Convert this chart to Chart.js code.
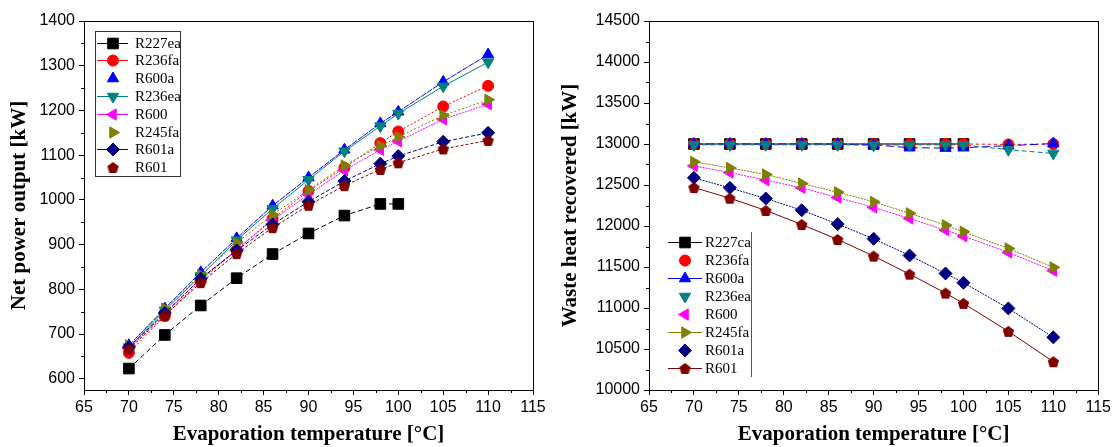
<!DOCTYPE html>
<html>
<head>
<meta charset="utf-8">
<script src="https://cdn.jsdelivr.net/npm/chart.js@4.4.0/dist/chart.umd.min.js"></script>
<style>
  body { margin: 0; background: #fff; }
  #wrap { display: flex; width: 1114px; height: 447px; }
  canvas { display: block; }
</style>
</head>
<body>
<div id="wrap">
  <canvas id="powerChart" width="557" height="447"></canvas>
  <canvas id="heatChart" width="557" height="447"></canvas>
</div>
<script>
// evaporation temperatures (°C)
const temps = [70, 74, 78, 82, 86, 90, 94, 98, 100, 105, 110];
const namesLeft = ['R227ea', 'R236fa', 'R600a', 'R236ea', 'R600', 'R245fa', 'R601a', 'R601'];
const namesRight = ['R227ca', 'R236fa', 'R600a', 'R236ea', 'R600', 'R245fa', 'R601a', 'R601'];

// net power output [kW]
const powR227ea = [623, 698, 764, 825, 879, 925, 965, 991, 991, null, null];
const powR236fa = [658, 740, 820, 888, 958, 1020, 1072, 1127, 1153, 1209, 1255];
const powR600a  = [675, 757, 838, 914, 987, 1050, 1112, 1171, 1197, 1264, 1325];
const powR236ea = [671, 753, 830, 910, 980, 1045, 1109, 1165, 1193, 1254, 1308];
const powR600   = [668, 746, 824, 889, 955, 1012, 1066, 1112, 1131, 1180, 1214];
const powR245fa = [675, 757, 832, 904, 967, 1022, 1077, 1121, 1141, 1189, 1224];
const powR601a  = [671, 747, 824, 887, 945, 996, 1042, 1081, 1098, 1130, 1150];
const powR601   = [666, 742, 815, 880, 938, 988, 1032, 1068, 1083, 1114, 1133];

// waste heat recovered [kW]
const heatR227ea = [13000, 13000, 13000, 13000, 13000, 13000, 13000, 13000, 13000, null, null];
const heatR236fa = [13000, 13000, 13000, 13000, 13000, 13000, 13000, 13000, 13000, 12995, 13000];
const heatR600a  = [13000, 13000, 13000, 13000, 13000, 12990, 12955, 12950, 12955, 12980, 13005];
const heatR236ea = [12990, 12990, 12990, 12990, 12990, 12985, 12990, 12990, 12990, 12930, 12885];
const heatR600   = [12733, 12652, 12559, 12465, 12347, 12226, 12092, 11949, 11876, 11677, 11454];
const heatR245fa = [12782, 12708, 12628, 12518, 12412, 12295, 12155, 12010, 11930, 11726, 11495];
const heatR601a  = [12587, 12465, 12335, 12193, 12023, 11844, 11641, 11421, 11308, 10995, 10642];
const heatR601   = [12469, 12339, 12189, 12018, 11836, 11633, 11413, 11182, 11056, 10715, 10345];

// tick labels
const xTicks = [65, 70, 75, 80, 85, 90, 95, 100, 105, 110, 115];
const powTicks = [600, 700, 800, 900, 1000, 1100, 1200, 1300, 1400];
const heatTicks = [10000, 10500, 11000, 11500, 12000, 12500, 13000, 13500, 14000, 14500];

const colors = ['#000000', '#ff0000', '#0000ff', '#008080', '#ff00ff', '#808000', '#000080', '#800000'];

function pentagon(color, size) {
  const c = document.createElement('canvas');
  c.width = size; c.height = size;
  const g = c.getContext('2d');
  const r = size / 2 - 0.5;
  g.beginPath();
  for (let i = 0; i < 5; i++) {
    const a = -Math.PI / 2 + i * 2 * Math.PI / 5;
    const px = size / 2 + r * Math.cos(a);
    const py = size / 2 + r * Math.sin(a) + r * 0.1;
    if (i === 0) g.moveTo(px, py); else g.lineTo(px, py);
  }
  g.closePath();
  g.fillStyle = color;
  g.fill();
  return c;
}

const styles = ['rect', 'circle', 'triangle', 'triangle', 'triangle', 'triangle', 'rectRot', pentagon('#800000', 13)];
const rotations = [0, 0, 0, 180, 270, 90, 0, 0];
const radii = [7.5, 5.5, 6.5, 6.5, 6.5, 6.5, 6.5, 6];

function makeSets(names, series, dashes) {
  return series.map((vals, i) => ({
    label: names[i],
    data: temps.map((t, k) => ({ x: t, y: vals[k] })),
    borderColor: colors[i],
    backgroundColor: colors[i],
    pointBackgroundColor: colors[i],
    pointBorderColor: colors[i],
    pointBorderWidth: 1,
    pointStyle: styles[i],
    pointRotation: rotations[i],
    pointRadius: radii[i],
    borderWidth: 1,
    borderDash: dashes[i],
    order: 10 - i
  }));
}

const framePlugin = {
  id: 'frame',
  afterDraw(chart, args, opts) {
    const { ctx, chartArea: a, scales } = chart;
    ctx.save();
    ctx.strokeStyle = '#000';
    ctx.lineWidth = 1;
    ctx.setLineDash([]);
    ctx.strokeRect(Math.round(a.left) + 0.5, Math.round(a.top) + 0.5, Math.round(a.right - a.left), Math.round(a.bottom - a.top));
    ctx.beginPath();
    for (let i = 0; i < xTicks.length - 1; i++) {
      const px = Math.round(scales.x.getPixelForValue((xTicks[i] + xTicks[i + 1]) / 2)) + 0.5;
      ctx.moveTo(px, a.bottom); ctx.lineTo(px, a.bottom + 3);
    }
    const yt = opts.yTicks;
    for (let i = 0; i < yt.length - 1; i++) {
      const py = Math.round(scales.y.getPixelForValue((yt[i] + yt[i + 1]) / 2)) + 0.5;
      ctx.moveTo(a.left, py); ctx.lineTo(a.left - 3, py);
    }
    if (yt[0] - (yt[1] - yt[0]) / 2 >= scales.y.min) {
      const py = Math.round(scales.y.getPixelForValue(yt[0] - (yt[1] - yt[0]) / 2)) + 0.5;
      ctx.moveTo(a.left, py); ctx.lineTo(a.left - 3, py);
    }
    ctx.stroke();
    ctx.restore();
  }
};

const legendPlugin = {
  id: 'boxLegend',
  afterDraw(chart, args, o) {
    const ctx = chart.ctx;
    ctx.save();
    ctx.fillStyle = '#fff';
    ctx.fillRect(o.x0, o.y0, o.x1 - o.x0, o.y1 - o.y0);
    ctx.strokeStyle = o.frameColor;
    ctx.lineWidth = 1;
    if (o.box) {
      ctx.strokeRect(o.x0 + 0.5, o.y0 + 0.5, o.x1 - o.x0, o.y1 - o.y0);
    } else {
      ctx.beginPath();
      ctx.moveTo(o.x1 + 0.5, o.y0); ctx.lineTo(o.x1 + 0.5, o.y1);
      ctx.stroke();
    }
    chart.data.datasets.forEach((ds, i) => {
      const y = Math.round(o.top + i * o.rowH) + 0.5;
      ctx.setLineDash([]);
      if (o.lines[i]) {
        ctx.strokeStyle = ds.borderColor;
        ctx.beginPath();
        ctx.moveTo(o.lineX0, y); ctx.lineTo(o.lineX1, y);
        ctx.stroke();
      }
      ctx.fillStyle = ds.pointBackgroundColor;
      ctx.strokeStyle = ds.pointBorderColor;
      Chart.helpers.drawPoint(ctx, {
        pointStyle: ds.pointStyle, rotation: ds.pointRotation,
        radius: ds.pointRadius, borderWidth: 1
      }, o.markerX, y);
      ctx.fillStyle = '#000';
      ctx.font = '15px "Liberation Serif"';
      ctx.textBaseline = 'middle';
      ctx.fillText(ds.label, o.textX, y + 1);
    });
    ctx.restore();
  }
};

function scalesFor(yMin, yMax, yTicks, yTitle, yWidth, titlePad) {
  return {
    x: {
      type: 'linear', min: 65, max: 115,
      afterBuildTicks: s => { s.ticks = xTicks.map(v => ({ value: v })); },
      afterFit: s => { s.height = 57; },
      grid: { drawOnChartArea: false, tickLength: 5, color: '#000' },
      border: { color: '#000' },
      ticks: { color: '#000', font: { size: 16 }, padding: 3, autoSkip: false, maxRotation: 0 },
      title: { display: true, text: 'Evaporation temperature [°C]', color: '#000', padding: 0,
        font: { family: 'Liberation Serif', size: 21, weight: 'bold' } }
    },
    y: {
      min: yMin, max: yMax,
      afterBuildTicks: s => { s.ticks = yTicks.map(v => ({ value: v })); },
      afterFit: s => { s.width = yWidth; },
      grid: { drawOnChartArea: false, tickLength: 5, color: '#000' },
      border: { color: '#000' },
      ticks: { color: '#000', font: { size: 16 }, padding: 4, callback: v => String(v) },
      title: { display: true, text: yTitle, color: '#000', padding: { top: titlePad, bottom: 0 },
        font: { family: 'Liberation Serif', size: 21, weight: 'bold' } }
    }
  };
}

Chart.defaults.font.family = '"Liberation Sans", Arial, sans-serif';
Chart.defaults.color = '#000';

new Chart(document.getElementById('powerChart'), {
  type: 'line',
  data: {
    datasets: makeSets(namesLeft,
      [powR227ea, powR236fa, powR600a, powR236ea, powR600, powR245fa, powR601a, powR601],
      [[5, 3], [2, 2], [6, 1], [], [2, 1], [2, 2], [4, 2], [3, 2]])
  },
  options: {
    responsive: false,
    animation: false,
    layout: { padding: { left: 0, top: 21, right: 24, bottom: 0 } },
    scales: scalesFor(575, 1400, powTicks, 'Net power output [kW]', 84, 7),
    plugins: {
      legend: { display: false },
      tooltip: { enabled: false },
      frame: { yTicks: powTicks },
      boxLegend: {
        box: true, frameColor: '#333', x0: 95, y0: 31, x1: 180, y1: 176,
        top: 42.5, rowH: 17.8, lineX0: 97, lineX1: 128, markerX: 113, textX: 135,
        lines: [true, true, false, true, true, false, true, false]
      }
    }
  },
  plugins: [framePlugin, legendPlugin]
});

new Chart(document.getElementById('heatChart'), {
  type: 'line',
  data: {
    datasets: makeSets(namesRight,
      [heatR227ea, heatR236fa, heatR600a, heatR236ea, heatR600, heatR245fa, heatR601a, heatR601],
      [[], [3, 3], [8, 4], [5, 3], [2, 1], [2, 1], [2, 1], []])
  },
  options: {
    responsive: false,
    animation: false,
    layout: { padding: { left: 0, top: 21, right: 15, bottom: 0 } },
    scales: scalesFor(10000, 14500, heatTicks, 'Waste heat recovered [kW]', 92, 1),
    plugins: {
      legend: { display: false },
      tooltip: { enabled: false },
      frame: { yTicks: heatTicks },
      boxLegend: {
        box: false, frameColor: '#555', x0: 110, y0: 232, x1: 194, y1: 377,
        top: 241.5, rowH: 18, lineX0: 111, lineX1: 145, markerX: 128, textX: 148,
        lines: [true, false, true, false, false, true, false, true]
      }
    }
  },
  plugins: [framePlugin, legendPlugin]
});
</script>
</body>
</html>
